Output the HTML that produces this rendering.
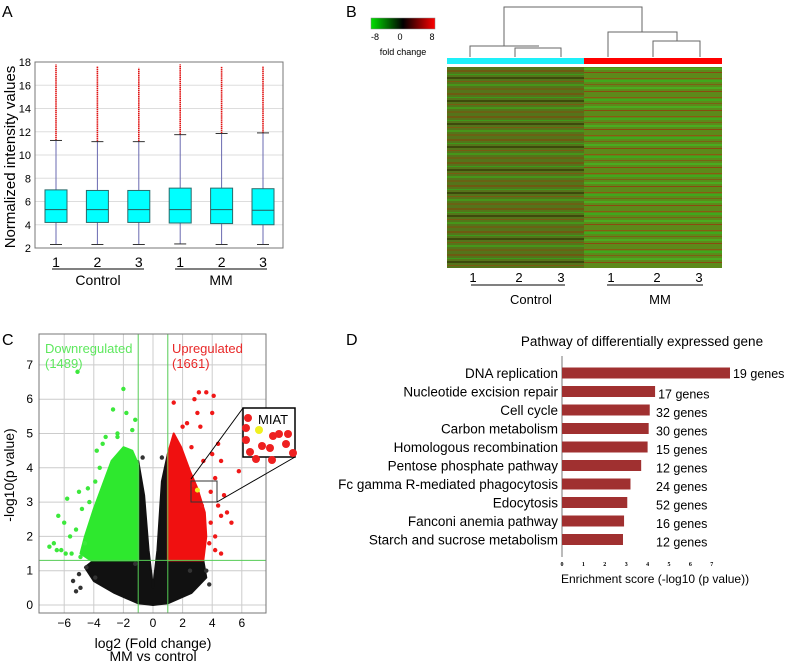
<!DOCTYPE html>
<html><head><meta charset="utf-8">
<style>
html,body{margin:0;padding:0;background:#fff;}
svg{display:block;font-family:"Liberation Sans",Arial,sans-serif;}
</style></head>
<body>
<svg id="fig" width="788" height="662" viewBox="0 0 788 662">
<defs>
<pattern id="hmC" width="10" height="23" patternUnits="userSpaceOnUse">
<rect width="10" height="23" fill="#55741a"/>
<rect y="1" width="10" height="2" fill="#6e5a12"/>
<rect y="5" width="10" height="1" fill="#3c9a1a"/>
<rect y="8" width="10" height="2" fill="#3d4a0c"/>
<rect y="12" width="10" height="1" fill="#7a5a12"/>
<rect y="15" width="10" height="2" fill="#46961a"/>
<rect y="19" width="10" height="2" fill="#6a6214"/>
</pattern>
<pattern id="hmM" width="10" height="19" patternUnits="userSpaceOnUse">
<rect width="10" height="19" fill="#5c8a1a"/>
<rect y="2" width="10" height="1" fill="#8a5a12"/>
<rect y="4" width="10" height="2" fill="#40a81c"/>
<rect y="8" width="10" height="1" fill="#7a6014"/>
<rect y="11" width="10" height="2" fill="#4aac20"/>
<rect y="15" width="10" height="1" fill="#8a4a10"/>
</pattern>
<linearGradient id="cbar" x1="0" x2="1">
<stop offset="0" stop-color="#00e000"/><stop offset="0.5" stop-color="#000"/><stop offset="1" stop-color="#ff0000"/>
</linearGradient>
</defs>

<text x="2" y="17" font-size="16">A</text>
<text x="346" y="17" font-size="16">B</text>
<text x="2" y="345" font-size="16">C</text>
<text x="346" y="345" font-size="16">D</text>

<g id="panelA"></g>
<g id="panelB">
<rect x="371" y="18" width="64" height="11" fill="url(#cbar)" stroke="#888" stroke-width="0.5"/>
<text x="375" y="40" font-size="9" text-anchor="middle">-8</text>
<text x="400" y="40" font-size="9" text-anchor="middle">0</text>
<text x="432" y="40" font-size="9" text-anchor="middle">8</text>
<text x="403" y="55" font-size="9" text-anchor="middle">fold change</text>
<g stroke="#666" fill="none" stroke-width="1">
<path d="M504 46 V7 H642 V32"/>
<path d="M470 57 V46 H539"/>
<path d="M515 57 V48 H561 V57"/>
<path d="M608 57 V32 H677 V41"/>
<path d="M653 57 V41 H700 V57"/>
</g>
<rect x="447" y="58" width="137" height="6" fill="#1ef0f8"/>
<rect x="584" y="58" width="138" height="6" fill="#f00"/>
<rect x="447" y="67" width="137" height="201" fill="url(#hmC)"/>
<rect x="584" y="67" width="138" height="201" fill="url(#hmM)"/>
<g font-size="13" text-anchor="middle">
<text x="473" y="282">1</text><text x="519" y="282">2</text><text x="561" y="282">3</text>
<text x="611" y="282">1</text><text x="657" y="282">2</text><text x="699" y="282">3</text>
</g>
<line x1="471" y1="285" x2="565" y2="285" stroke="#000"/>
<line x1="607" y1="285" x2="703" y2="285" stroke="#000"/>
<text x="531" y="304" font-size="13" text-anchor="middle">Control</text>
<text x="660" y="304" font-size="13" text-anchor="middle">MM</text>
</g>
<g id="panelC"></g>
<g id="panelD"></g>
</svg>
<script>
// ---------- Panel A data ----------
const boxSamples = ["1","2","3","1","2","3"];
const boxQ1 = [4.2,4.2,4.2,4.15,4.1,4.0];
const boxMedian = [5.3,5.3,5.3,5.3,5.3,5.25];
const boxQ3 = [7.0,6.95,6.95,7.15,7.15,7.1];
const whiskerLow = [2.3,2.3,2.3,2.35,2.3,2.3];
const whiskerHigh = [11.25,11.15,11.15,11.75,11.85,11.9];
const outlierMax = [17.8,17.6,17.5,17.8,17.6,17.6];
const yTicksA = [2,4,6,8,10,12,14,16,18];

// ---------- Panel C data ----------
const xTicksC = [-6,-4,-2,0,2,4,6];
const yTicksC = [0,1,2,3,4,5,6,7];
const foldThreshold = 1;
const pThreshold = 1.3;
const blackRegion = [[-4.6,1.1],[-4.0,1.3],[-1,1.3],[-1,4.2],[-0.6,3.2],[-0.3,1.6],[0,0.5],[0.3,1.6],[0.6,3.6],[1,4.4],[1,1.3],[3.4,1.3],[3.6,0.8],[2.6,0.35],[1.0,0.05],[0,0],[-1.0,0.05],[-2.6,0.35],[-4.0,0.7]];
const greenRegion = [[-1,1.3],[-1,4.1],[-1.4,4.5],[-2.0,4.6],[-2.8,4.2],[-3.4,3.5],[-4.0,2.8],[-4.6,2.0],[-4.9,1.5],[-4.2,1.3]];
const redRegion = [[1,1.3],[1,4.4],[1.4,5.0],[1.9,4.6],[2.5,3.9],[3.0,3.4],[3.5,2.7],[3.6,2.0],[3.4,1.3]];
const greenPts = [[-5.1,6.8],[-2,6.3],[-1.8,5.6],[-2.7,5.7],[-1.4,5.1],[-2.4,5.0],[-3.4,4.7],[-3.8,4.5],[-3.2,4.9],[-5.8,3.1],[-6.4,2.6],[-6.0,2.4],[-6.7,1.8],[-7.0,1.7],[-6.2,1.6],[-5.5,1.5],[-5.2,2.2],[-4.8,2.8],[-4.6,1.8],[-5.6,2.0],[-4.3,3.0],[-3.9,3.6],[-1.2,5.4],[-5.0,3.3],[-4.4,3.4],[-5.9,1.5],[-6.5,1.6],[-4.9,1.4],[-3.6,4.0],[-2.4,4.9]];
const redPts = [[3.1,6.2],[3.6,6.2],[4.1,6.1],[2.8,6.0],[1.4,5.9],[3.0,5.6],[4.0,5.6],[2.3,5.3],[3.2,5.2],[4.4,4.7],[4.6,4.2],[5.8,3.9],[4.2,3.7],[4.8,3.2],[5.0,2.7],[4.6,2.6],[5.3,2.4],[4.2,2.0],[4.2,1.6],[3.8,1.8],[4.6,1.5],[3.9,3.3],[3.3,2.9],[2.7,3.5],[2.0,5.2],[2.6,4.6],[3.4,4.2],[4.4,2.9],[3.9,2.4],[4.0,4.4]];
const blackPts = [[-4.5,1.1],[-5.0,0.9],[-3.9,0.8],[-5.4,0.7],[-4.9,0.5],[3.6,1.0],[3.8,0.6],[-0.7,4.3],[0.6,4.3],[-1.2,1.2],[2.5,1.0],[-5.2,0.4]];
const miatPoint = [3.0,3.35];

// ---------- Panel D data ----------
const pathways = ["DNA replication","Nucleotide excision repair","Cell cycle","Carbon metabolism","Homologous recombination","Pentose phosphate pathway","Fc gamma R-mediated phagocytosis","Edocytosis","Fanconi anemia pathway","Starch and sucrose metabolism"];
const enrichment = [7.85,4.35,4.1,4.05,4.0,3.7,3.2,3.05,2.9,2.85];
const geneCounts = ["19 genes","17 genes","32 genes","30 genes","15 genes","12 genes","24 genes","52 genes","16 genes","12 genes"];
const xTicksD = [0,1,2,3,4,5,6,7];

const NS = "http://www.w3.org/2000/svg";
function mk(parent, tag, attrs, text){
  const e = document.createElementNS(NS, tag);
  for (const k in attrs) e.setAttribute(k, attrs[k]);
  if (text !== undefined) e.textContent = text;
  parent.appendChild(e);
  return e;
}

// ===== Panel A =====
(function(){
  const g = document.getElementById('panelA');
  const L=35,R=283,T=62,B=248;
  const yA = v => B - (v-2)/(18-2)*(B-T);
  const xA = i => 56 + i*41.4;
  yTicksA.forEach(t=>{
    const gl = mk(g,'line',{x1:L,x2:R,y1:yA(t),y2:yA(t),stroke:'#ddd','stroke-width':1});
    
    
    const tl = mk(g,'text',{x:L-4,y:yA(t)+4,'font-size':11,'text-anchor':'end'},String(t));
    
    
  });
  boxSamples.forEach((s,i)=>{
    const x = xA(i), w=22;
    const o = mk(g,'line',{x1:x,x2:x,y1:yA(whiskerHigh[i]),y2:yA(outlierMax[i]),stroke:'#e01010','stroke-width':1.6,'stroke-dasharray':'1.5 0.6'});
    
    
    const wl = mk(g,'line',{x1:x,x2:x,y1:yA(whiskerLow[i]),y2:yA(whiskerHigh[i]),stroke:'#6a6ab0','stroke-width':1});
    
    
    [whiskerLow[i],whiskerHigh[i]].forEach(v=>{
      const c = mk(g,'line',{x1:x-6,x2:x+6,y1:yA(v),y2:yA(v),stroke:'#333','stroke-width':1});
      
      
    });
    const b = mk(g,'rect',{x:x-w/2,y:yA(boxQ3[i]),width:w,height:yA(boxQ1[i])-yA(boxQ3[i]),fill:'#00ffff',stroke:'#2a6a6a','stroke-width':1});
    
    
    const m = mk(g,'line',{x1:x-w/2,x2:x+w/2,y1:yA(boxMedian[i]),y2:yA(boxMedian[i]),stroke:'#2a5a5a','stroke-width':1});
    
    
    const lab = mk(g,'text',{x:x,y:267,'font-size':14,'text-anchor':'middle'},s);
    
    
  });
  const fr = mk(g,'rect',{x:L,y:T,width:R-L,height:B-T,fill:'none',stroke:'#777','stroke-width':1});
  
  
  mk(g,'line',{x1:52,x2:144,y1:269,y2:269,stroke:'#000'});
  mk(g,'line',{x1:175,x2:267,y1:269,y2:269,stroke:'#000'});
  const c1 = mk(g,'text',{x:98,y:285,'font-size':14,'text-anchor':'middle'},'Control');
  
  
  const c2 = mk(g,'text',{x:221,y:285,'font-size':14,'text-anchor':'middle'},'MM');
  
  
  const yt = mk(g,'text',{x:0,y:0,'font-size':15,'text-anchor':'middle',transform:'translate(15,157) rotate(-90)'},'Normalized intensity values');
  
  
})();

// ===== Panel C =====
(function(){
  const g = document.getElementById('panelC');
  const L=39,R=266,T=334,B=613;
  const xC = v => 153 + v*14.8;
  const yC = v => 605 - v*34.3;
  xTicksC.forEach(t=>{
    const gl = mk(g,'line',{x1:xC(t),x2:xC(t),y1:T,y2:B,stroke:'#ccc'});
    
    
    const tl = mk(g,'text',{x:xC(t),y:B+14,'font-size':12,'text-anchor':'middle'},t<0?'\u2212'+(-t):String(t));
    
    
  });
  yTicksC.forEach(t=>{
    const gl = mk(g,'line',{x1:L,x2:R,y1:yC(t),y2:yC(t),stroke:'#ccc'});
    
    
    const tl = mk(g,'text',{x:L-6,y:yC(t)+4,'font-size':12,'text-anchor':'end'},String(t));
    
    
  });
  const poly = (pts,fill,name)=>{
    const p = mk(g,'polygon',{points:pts.map(q=>xC(q[0])+','+yC(q[1])).join(' '),fill:fill,stroke:fill,'stroke-width':2,'stroke-linejoin':'round'});
    
    
  };
  poly(blackRegion,'#111','nonsignificant-points');
  poly(greenRegion,'#2ee82e','downregulated-dense');
  poly(redRegion,'#f01010','upregulated-dense');
  const dots = (pts,fill,name)=>pts.forEach(q=>{
    const c = mk(g,'circle',{cx:xC(q[0]),cy:yC(q[1]),r:2.2,fill:fill});
    
    
  });
  dots(greenPts,'#3ce83c','downregulated-point');
  dots(redPts,'#f01818','upregulated-point');
  dots(blackPts,'#333','nonsignificant-point');
  const mp = mk(g,'circle',{cx:xC(miatPoint[0]),cy:yC(miatPoint[1]),r:2.5,fill:'#f0f020'});
  
  
  [-foldThreshold,foldThreshold].forEach(v=>{
    const l = mk(g,'line',{x1:xC(v),x2:xC(v),y1:T,y2:B,stroke:'#5c5','stroke-width':1});
    
    
  });
  const pl = mk(g,'line',{x1:L,x2:R,y1:yC(pThreshold),y2:yC(pThreshold),stroke:'#5c5','stroke-width':1});
  
  
  const fr = mk(g,'rect',{x:L,y:T,width:R-L,height:B-T,fill:'none',stroke:'#777'});
  
  
  const sb = mk(g,'rect',{x:191,y:481,width:26,height:21,fill:'none',stroke:'#333'});
  
  
  mk(g,'line',{x1:191,y1:479,x2:243,y2:408,stroke:'#000','stroke-width':1});
  mk(g,'line',{x1:217,y1:502,x2:295,y2:457,stroke:'#000','stroke-width':1});
  const ib = mk(g,'rect',{x:243,y:408,width:52,height:49,fill:'#fff',stroke:'#000','stroke-width':1.5});
  
  
  [[248,418],[246,428],[246,440],[250,452],[262,446],[270,448],[273,436],[279,434],[288,434],[286,444],[293,453],[256,459],[272,460]].forEach(q=>{
    const c = mk(g,'circle',{cx:q[0],cy:q[1],r:4,fill:'#ee2020'});
    
    
  });
  const yc = mk(g,'circle',{cx:259,cy:430,r:4,fill:'#f0f020'});
  
  
  const mt = mk(g,'text',{x:258,y:424,'font-size':13},'MIAT');
  
  
  const d1 = mk(g,'text',{x:45,y:353,'font-size':13,fill:'#5ee85e'},'Downregulated');
  
  
  const d2 = mk(g,'text',{x:45,y:368,'font-size':13,fill:'#5ee85e'},'(1489)');
  
  
  const u1 = mk(g,'text',{x:172,y:353,'font-size':13,fill:'#e82828'},'Upregulated');
  
  
  const u2 = mk(g,'text',{x:172,y:368,'font-size':13,fill:'#e82828'},'(1661)');
  
  
  const xt = mk(g,'text',{x:153,y:648,'font-size':14,'text-anchor':'middle'},'log2 (Fold change)');
  
  
  const xt2 = mk(g,'text',{x:153,y:661,'font-size':14,'text-anchor':'middle'},'MM vs control');
  
  
  const yt = mk(g,'text',{x:0,y:0,'font-size':14,'text-anchor':'middle',transform:'translate(14,475) rotate(-90)'},'-log10(p value)');
  
  
})();

// ===== Panel D =====
(function(){
  const g = document.getElementById('panelD');
  const x0=562, unit=21.4;
  const xD = v => x0 + v*unit;
  const yD = i => 373 + i*18.5;
  const tt = mk(g,'text',{x:642,y:346,'font-size':13.5,'text-anchor':'middle'},'Pathway of differentially expressed gene');
  
  
  mk(g,'line',{x1:x0,x2:x0,y1:356,y2:557,stroke:'#777'});
  pathways.forEach((p,i)=>{
    const b = mk(g,'rect',{x:x0,y:yD(i)-5.5,width:xD(enrichment[i])-x0,height:11,fill:'#a03030'});
    
    
    const l = mk(g,'text',{x:558,y:yD(i)+5,'font-size':13.5,'text-anchor':'end'},p);
    
    
    const gx = Math.max(xD(enrichment[i])+3, 656);
    const c = mk(g,'text',{x:gx,y:yD(i)+(i===0?5:7),'font-size':12.5},geneCounts[i]);
    
    
  });
  xTicksD.forEach(t=>{
    const tl = mk(g,'text',{x:xD(t),y:566,'font-size':6,'text-anchor':'middle','font-family':'Liberation Serif, serif','font-weight':'bold'},String(t));
    
    
  });
  const xt = mk(g,'text',{x:561,y:583,'font-size':12},'Enrichment score (-log10 (p value))');
  
  
})();
</script>
</body></html>
